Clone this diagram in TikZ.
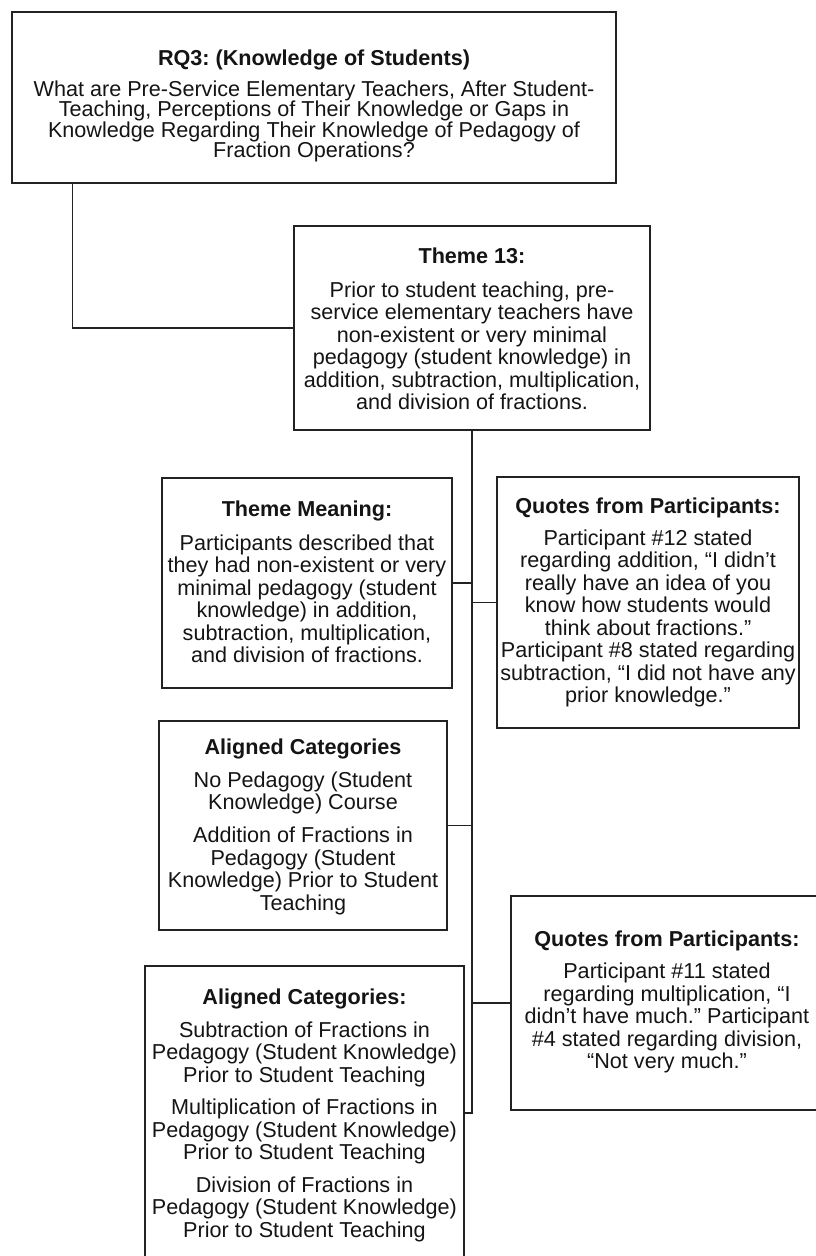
\documentclass[tikz,border=0pt]{standalone}
\usepackage{fontspec}
\setmainfont{Liberation Sans}
\definecolor{linecol}{HTML}{222222}
\definecolor{textcol}{HTML}{141414}
\frenchspacing
\begin{document}
\begin{tikzpicture}[x={(1pt,0)}, y={(0,-1pt)},
  box/.style={draw=linecol, line width=1.4pt, inner sep=0pt},
  link/.style={draw=linecol, line width=1.4pt},
  trunk/.style={draw=linecol, line width=2.3pt},
  txt/.style={anchor=north, align=center, inner sep=0pt, text=textcol,
    font=\fontsize{21.6}{22.5}\selectfont},
  txttight/.style={txt, font=\fontsize{21.6}{20.5}\selectfont}]
\path[use as bounding box] (0,0) rectangle (816,1256);

% frames
\node[box, minimum width=604pt, minimum height=171pt] (rq)  at (314,97.5) {};
\node[box, minimum width=356pt, minimum height=204pt] (th)  at (472,328) {};
\node[box, minimum width=290pt, minimum height=210pt] (tm)  at (307,583) {};
\node[box, minimum width=302pt, minimum height=251pt] (qa)  at (648,602.5) {};
\node[box, minimum width=288pt, minimum height=209pt] (ca)  at (303,825.5) {};
\node[box, minimum width=312pt, minimum height=214pt] (qb)  at (667,1003) {};
\node[box, minimum width=319pt, minimum height=294pt] (cb)  at (304.5,1113) {};

% texts
\node[txttight] (rqt) at (314,45) {\rule{0pt}{20pt}\textbf{RQ3: (Knowledge of Students)}\\[10.5pt]
  What are Pre-Service Elementary Teachers, After Student-\\
  Teaching, Perceptions of Their Knowledge or Gaps in\\
  Knowledge Regarding Their Knowledge of Pedagogy of\\
  Fraction Operations?};

\node[txt] (tht) at (472,243) {\rule{0pt}{20pt}\textbf{Theme 13:}\\[11.5pt]
  Prior to student teaching, pre-\\
  service elementary teachers have\\
  non-existent or very minimal\\
  pedagogy (student knowledge) in\\
  addition, subtraction, multiplication,\\
  and division of fractions.};

\node[txt] (tmt) at (307,496) {\rule{0pt}{20pt}\textbf{Theme Meaning:}\\[11.5pt]
  Participants described that\\
  they had non-existent or very\\
  minimal pedagogy (student\\
  knowledge) in addition,\\
  subtraction, multiplication,\\
  and division of fractions.};

\node[txt] (qat) at (648,493) {\rule{0pt}{20pt}\textbf{Quotes from Participants:}\\[9.5pt]
  Participant \#12 stated\\
  regarding addition, “I didn’t\\
  really have an idea of you\\
  know how students would\\
  think about fractions.”\\
  Participant \#8 stated regarding\\
  subtraction, “I did not have any\\
  prior knowledge.”};

\node[txt] (cat) at (303,734) {\rule{0pt}{20pt}\textbf{Aligned Categories}\\[10.5pt]
  No Pedagogy (Student\\
  Knowledge) Course\\[10.5pt]
  Addition of Fractions in\\
  Pedagogy (Student\\
  Knowledge) Prior to Student\\
  Teaching};

\node[txt] (qbt) at (667,926.6) {\rule{0pt}{20pt}\textbf{Quotes from Participants:}\\[9.5pt]
  Participant \#11 stated\\
  regarding multiplication, “I\\
  didn’t have much.” Participant\\
  \#4 stated regarding division,\\
  “Not very much.”};

\node[txt] (cbt) at (304.5,984.4) {\rule{0pt}{20pt}\textbf{Aligned Categories:}\\[10pt]
  Subtraction of Fractions in\\
  Pedagogy (Student Knowledge)\\
  Prior to Student Teaching\\[10pt]
  Multiplication of Fractions in\\
  Pedagogy (Student Knowledge)\\
  Prior to Student Teaching\\[10pt]
  Division of Fractions in\\
  Pedagogy (Student Knowledge)\\
  Prior to Student Teaching};

% connectors
\coordinate (drop) at ([xshift=61pt]rq.south west);
\draw[link] (drop) |- (th.west);
\draw[trunk] (th.south) -- (th.south |- qb.west);
\draw[link] (th.south |- qb.west) -- (th.south |- cb.east) -- (cb.east);
\draw[link] (tm.east) -- (tm.east -| th.south);
\draw[link] (qa.west) -- (qa.west -| th.south);
\draw[link] (ca.east) -- (ca.east -| th.south);
\draw[link] (qb.west) -- (qb.west -| th.south);
\end{tikzpicture}
\end{document}
